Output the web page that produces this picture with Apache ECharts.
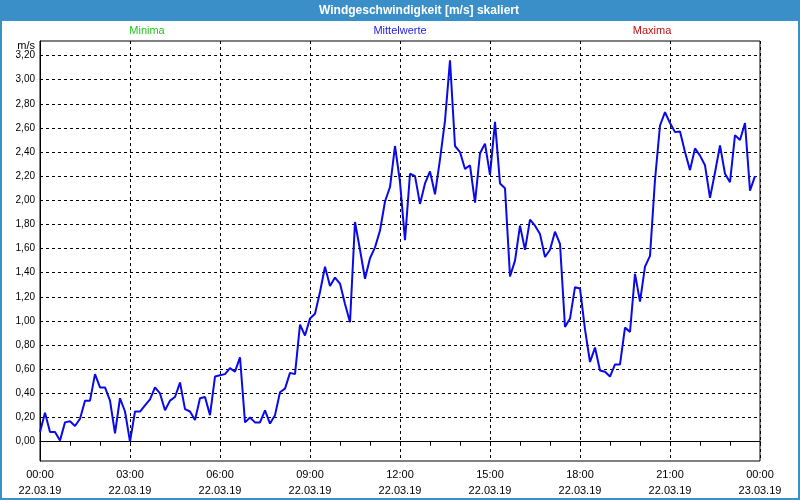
<!DOCTYPE html>
<html><head><meta charset="utf-8">
<script src="https://cdn.jsdelivr.net/npm/echarts@6/dist/echarts.min.js"></script>
<style>html,body{margin:0;padding:0;background:#fff}#c{width:800px;height:500px}</style>
</head><body><div id="c"></div>
<script>
const chartTitle = "Windgeschwindigkeit [m/s] skaliert";
const seriesTitles = ["Minima", "Mittelwerte", "Maxima"];
const unitLabel = "m/s";
const stepMinutes = 10;
// mean wind speed, 10-minute steps from 00:00 to 23:50
const meanValues = [
  0.08, 0.24, 0.08, 0.08, 0.01, 0.16, 0.17, 0.13, 0.19, 0.34,
  0.34, 0.56, 0.45, 0.45, 0.34, 0.07, 0.36, 0.25, 0.00, 0.25,
  0.25, 0.30, 0.35, 0.45, 0.40, 0.26, 0.34, 0.37, 0.49, 0.27,
  0.25, 0.18, 0.36, 0.37, 0.22, 0.54, 0.55, 0.56, 0.61, 0.58,
  0.70, 0.16, 0.20, 0.16, 0.16, 0.26, 0.15, 0.22, 0.41, 0.44,
  0.57, 0.56, 0.97, 0.88, 1.02, 1.06, 1.24, 1.45, 1.29, 1.36,
  1.31, 1.14, 0.99, 1.82, 1.59, 1.35, 1.52, 1.61, 1.75, 1.99,
  2.11, 2.45, 2.15, 1.67, 2.22, 2.20, 1.97, 2.14, 2.24, 2.05,
  2.34, 2.66, 3.16, 2.45, 2.40, 2.26, 2.29, 1.98, 2.39, 2.47,
  2.21, 2.65, 2.14, 2.10, 1.37, 1.50, 1.79, 1.59, 1.84, 1.79,
  1.72, 1.53, 1.59, 1.74, 1.64, 0.95, 1.02, 1.28, 1.27, 0.93,
  0.66, 0.78, 0.59, 0.58, 0.54, 0.64, 0.64, 0.945, 0.91, 1.39,
  1.16, 1.45, 1.54, 2.17, 2.62, 2.73, 2.64, 2.565, 2.57, 2.40,
  2.25, 2.43, 2.37, 2.29, 2.02, 2.23, 2.455, 2.22, 2.15, 2.54,
  2.50, 2.64, 2.08, 2.20
];
const xTickLabels = [
  "00:00\n22.03.19", "03:00\n22.03.19", "06:00\n22.03.19", "09:00\n22.03.19",
  "12:00\n22.03.19", "15:00\n22.03.19", "18:00\n22.03.19", "21:00\n22.03.19",
  "00:00\n23.03.19"
];
const yTickValues = [0, 0.2, 0.4, 0.6, 0.8, 1.0, 1.2, 1.4, 1.6, 1.8, 2.0, 2.2, 2.4, 2.6, 2.8, 3.0, 3.2];
const yTickLabels = ["0,00","0,20","0,40","0,60","0,80","1,00","1,20","1,40","1,60","1,80","2,00","2,20","2,40","2,60","2,80","3,00","3,20"];

const FONT = "Liberation Sans";
const frameBlue = "#3b8fc8";
const chart = echarts.init(document.getElementById('c'), null, {renderer: 'canvas'});
const seriesData = meanValues.map((v, i) => [i * stepMinutes, v]);

chart.setOption({
  animation: false,
  backgroundColor: '#fff',
  grid: {left: 40, right: 40, top: 41, bottom: 39, show: true, borderColor: '#000', borderWidth: 1, backgroundColor: '#fff'},
  graphic: [
    {type: 'rect', shape: {x: 0, y: 0, width: 800, height: 21}, style: {fill: frameBlue}, silent: true},
    {type: 'rect', shape: {x: 1, y: 1, width: 798, height: 498}, style: {fill: null, stroke: frameBlue, lineWidth: 2}, silent: true},
    {type: 'text', x: 419, y: 11, style: {text: chartTitle, fill: '#fff', font: 'bold 12px "' + FONT + '"', textAlign: 'center', textVerticalAlign: 'middle'}, silent: true},
    {type: 'text', x: 147, y: 31, style: {text: seriesTitles[0], fill: '#22c822', font: '11px "' + FONT + '"', textAlign: 'center', textVerticalAlign: 'middle'}, silent: true},
    {type: 'text', x: 400, y: 31, style: {text: seriesTitles[1], fill: '#2020e6', font: '11px "' + FONT + '"', textAlign: 'center', textVerticalAlign: 'middle'}, silent: true},
    {type: 'text', x: 652, y: 31, style: {text: seriesTitles[2], fill: '#c01010', font: '11px "' + FONT + '"', textAlign: 'center', textVerticalAlign: 'middle'}, silent: true},
    {type: 'text', x: 35, y: 46, style: {text: unitLabel, fill: '#000', font: '11px "' + FONT + '"', textAlign: 'right', textVerticalAlign: 'middle'}, silent: true}
  ],
  xAxis: {
    type: 'value', min: 0, max: 1440, interval: 180,
    axisLine: {show: true, lineStyle: {color: '#000', width: 1}},
    axisTick: {show: true, length: 4, inside: false, lineStyle: {color: '#000'}},
    minorTick: {show: true, splitNumber: 3, length: 4, lineStyle: {color: '#000'}},
    axisLabel: {
      color: '#000', fontFamily: FONT, fontSize: 11, lineHeight: 16, margin: 6,
      showMinLabel: true, showMaxLabel: true,
      formatter: v => xTickLabels[Math.round(v / 180)] || ''
    },
    splitLine: {show: true, lineStyle: {color: '#000', type: [3, 3], width: 1}}
  },
  yAxis: {
    type: 'value', min: -0.16, max: 3.32,
    axisLine: {show: true, lineStyle: {color: '#000'}},
    axisTick: {show: false, customValues: yTickValues},
    axisLabel: {
      color: '#000', fontFamily: FONT, fontSize: 10, margin: 5,
      customValues: yTickValues,
      formatter: v => { const i = yTickValues.findIndex(t => Math.abs(t - v) < 1e-6); return i >= 0 ? yTickLabels[i] : ''; }
    },
    splitLine: {show: true, lineStyle: {color: '#000', type: [3, 3], width: 1}}
  },
  series: [{
    type: 'line', name: seriesTitles[1], data: seriesData,
    showSymbol: false, symbol: 'none',
    lineStyle: {color: '#0a0ae6', width: 2},
    z: 5
  }]
});
</script></body></html>
